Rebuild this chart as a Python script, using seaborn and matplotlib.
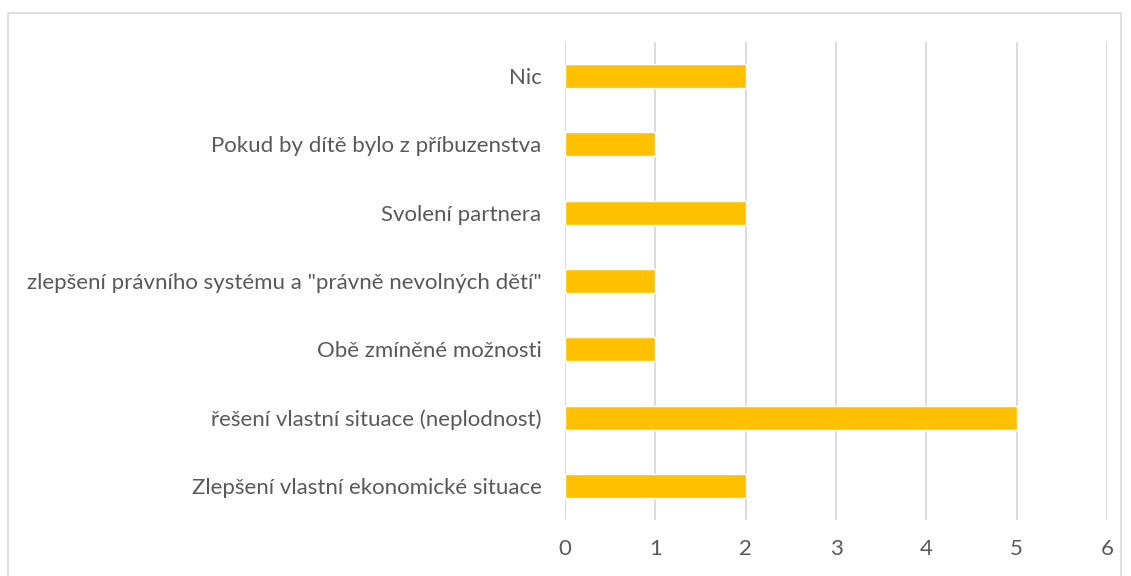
import matplotlib
matplotlib.use("Agg")
import matplotlib.pyplot as plt
import seaborn as sns
import pandas as pd
from matplotlib.patches import Rectangle

# Data (top to bottom, as shown)
categories = [
    "Nic",
    "Pokud by dítě bylo z příbuzenstva",
    "Svolení partnera",
    "zlepšení právního systému a \"právně nevolných dětí\"",
    "Obě zmíněné možnosti",
    "řešení vlastní situace (neplodnost)",
    "Zlepšení vlastní ekonomické situace",
]
values = [2, 1, 2, 1, 1, 5, 2]
x_ticks = [0, 1, 2, 3, 4, 5, 6]

BAR_COLOR = "#FFC000"
TEXT_COLOR = "#595959"
GRID_COLOR = "#D9D9D9"

sns.set_style("white")
plt.rcParams["font.family"] = ["Lato", "DejaVu Sans"]

df = pd.DataFrame({"category": categories, "value": values})

fig = plt.figure(figsize=(11.31, 5.76), dpi=100)
ax = fig.add_axes([0.4996, 0.0972, 0.4792, 0.8299])

sns.barplot(data=df, x="value", y="category", orient="h", color=BAR_COLOR,
            width=0.35, saturation=1, ax=ax, zorder=3)

ax.set_xlim(0, 6)
ax.set_ylim(len(categories) - 0.5, -0.5)
ax.set_xticks(x_ticks)
ax.set_xlabel("")
ax.set_ylabel("")
ax.xaxis.grid(True, color=GRID_COLOR, linewidth=1.3, zorder=0)
ax.yaxis.grid(False)
for s in ax.spines.values():
    s.set_visible(False)
ax.tick_params(axis="both", length=0, labelsize=16, labelcolor=TEXT_COLOR)
ax.tick_params(axis="y", pad=17)
ax.tick_params(axis="x", pad=14)

# outer chart frame
fig.patches.append(Rectangle((8 / 1131, -0.1), (1121 - 8) / 1131, 1.1 - 13 / 576,
                             transform=fig.transFigure, fill=False,
                             edgecolor=GRID_COLOR, linewidth=1.2))

fig.savefig("out.png", dpi=100)
